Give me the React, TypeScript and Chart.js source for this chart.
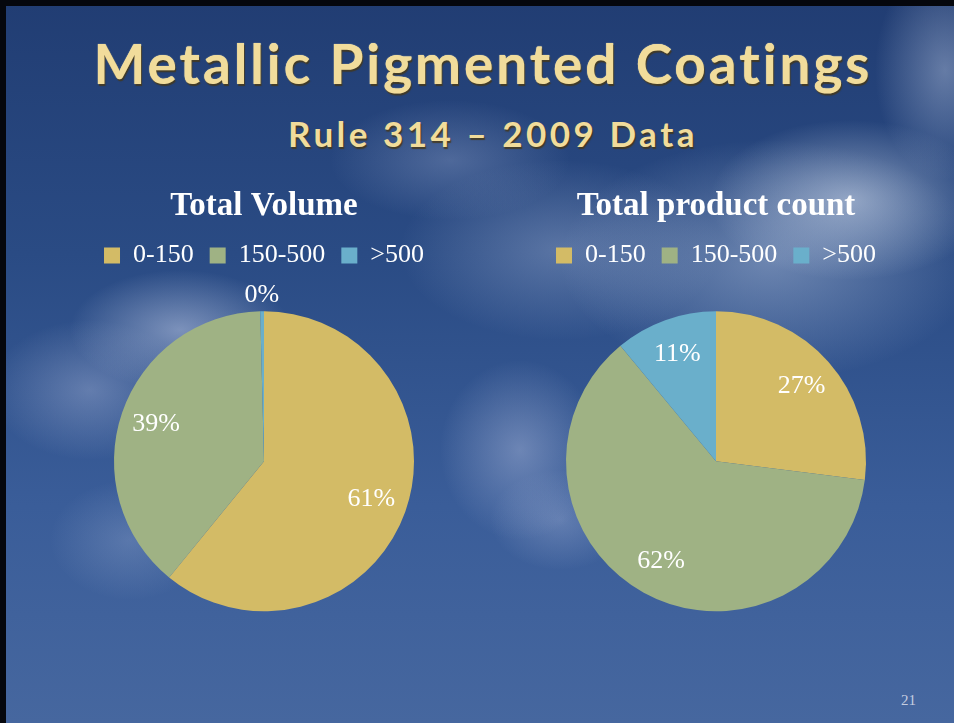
import React, { useEffect, useRef } from "react";
import { Chart, registerables } from "chart.js";

Chart.register(...registerables);

const categories = ["0-150", "150-500", ">500"];
const volumeValues = [60.9, 38.7, 0.4];
const countValues = [27, 62, 11];
const sliceColors = ["#d3bb66", "#9fb284", "#6aafcb"];

const chartTitles = ["Total Volume", "Total product count"];

const labelPlugin = {
  id: "pieLabels",
  afterDatasetsDraw(chart: any) {
    const ctx = chart.ctx;
    const ds = chart.data.datasets[0];
    const vals: number[] = ds.data;
    const total = vals.reduce((a, b) => a + b, 0);
    const meta = chart.getDatasetMeta(0);
    ctx.save();
    ctx.font = '26px "Liberation Serif"';
    ctx.fillStyle = "#ffffff";
    ctx.textAlign = "center";
    ctx.textBaseline = "middle";
    meta.data.forEach((arc: any, i: number) => {
      const p = arc.getProps(["startAngle", "endAngle", "outerRadius", "x", "y"], true);
      const mid = (p.startAngle + p.endAngle) / 2;
      const pct = (vals[i] / total) * 100;
      const r = pct < 3 ? p.outerRadius * 1.11 : p.outerRadius * 0.76;
      const tx = p.x + Math.cos(mid) * r;
      const ty = p.y + Math.sin(mid) * r;
      ctx.fillText(Math.round(pct) + "%", tx, ty);
    });
    ctx.restore();
  },
};

function PieChart({ title, values }: { title: string; values: number[] }) {
  const ref = useRef<HTMLCanvasElement>(null);
  useEffect(() => {
    if (!ref.current) return;
    const chart = new Chart(ref.current, {
      type: "pie",
      data: {
        labels: categories,
        datasets: [
          {
            data: values,
            backgroundColor: sliceColors,
            borderWidth: 0,
            radius: 150,
          } as any,
        ],
      },
      options: {
        animation: false,
        responsive: false,
        maintainAspectRatio: false,
        layout: { padding: { bottom: 0 } },
        plugins: {
          title: {
            display: true,
            text: title,
            color: "#ffffff",
            font: { family: '"Liberation Serif"', size: 33, weight: "bold" },
            padding: { top: 12, bottom: 0 },
          },
          legend: {
            display: true,
            position: "top",
            labels: {
              color: "#ffffff",
              boxWidth: 16,
              boxHeight: 16,
              padding: 16,
              font: { family: '"Liberation Serif"', size: 26 },
            },
          },
          tooltip: { enabled: false },
        },
      },
      plugins: [labelPlugin],
    });
    return () => chart.destroy();
  }, [title, values]);
  return <canvas ref={ref} width={440} height={469} style={{ width: 440, height: 469, display: "block" }} />;
}

export default function App() {
  useEffect(() => {
    document.body.style.margin = "0";
  }, []);
  const bg = [
    "radial-gradient(ellipse 140px 80px at 850px 200px, rgba(215,225,240,0.55), rgba(215,225,240,0) 100%)",
    "radial-gradient(ellipse 210px 120px at 770px 260px, rgba(190,205,230,0.45), rgba(190,205,230,0) 100%)",
    "radial-gradient(ellipse 160px 90px at 560px 250px, rgba(180,195,225,0.35), rgba(180,195,225,0) 100%)",
    "radial-gradient(ellipse 70px 110px at 945px 70px, rgba(200,212,235,0.4), rgba(200,212,235,0) 100%)",
    "radial-gradient(ellipse 120px 60px at 450px 160px, rgba(170,185,220,0.3), rgba(170,185,220,0) 100%)",
    "radial-gradient(ellipse 110px 60px at 180px 330px, rgba(200,210,235,0.5), rgba(200,210,235,0) 100%)",
    "radial-gradient(ellipse 100px 70px at 90px 390px, rgba(190,200,230,0.35), rgba(190,200,230,0) 100%)",
    "radial-gradient(ellipse 80px 90px at 520px 450px, rgba(190,200,230,0.4), rgba(190,200,230,0) 100%)",
    "radial-gradient(ellipse 70px 50px at 560px 520px, rgba(190,200,230,0.3), rgba(190,200,230,0) 100%)",
    "radial-gradient(ellipse 80px 60px at 130px 540px, rgba(180,195,225,0.25), rgba(180,195,225,0) 100%)",
    "linear-gradient(180deg, #213d73 0%, #2a4b84 35%, #3a5d99 70%, #46679f 100%)",
  ].join(",");
  return (
    <div style={{ position: "relative", width: 954, height: 723, background: "#05070d", overflow: "hidden" }}>
      <div
        style={{
          position: "absolute",
          left: 6,
          top: 6,
          width: 948,
          height: 717,
          backgroundImage: bg,
          backgroundPosition: "-6px -6px",
          backgroundSize: "954px 723px",
        }}
      />
      <div
        style={{
          position: "absolute",
          left: 6,
          width: 954,
          top: 28,
          textAlign: "center",
          fontFamily: "Lato, sans-serif",
          fontWeight: 700,
          fontSize: 55,
          lineHeight: "70px",
          color: "#f1dc9b",
          textShadow: "1px 2px 1px rgba(70,55,20,0.8), 0 0 1px #fff3c8",
          letterSpacing: 2.9,
        }}
      >
        Metallic Pigmented Coatings
      </div>
      <div
        style={{
          position: "absolute",
          left: 0,
          width: 986,
          top: 110,
          textAlign: "center",
          fontFamily: "Lato, sans-serif",
          fontWeight: 700,
          fontSize: 35,
          lineHeight: "46px",
          color: "#f1dc9b",
          textShadow: "1px 2px 1px rgba(70,55,20,0.8)",
          letterSpacing: 3.5,
        }}
      >
        Rule 314 – 2009 Data
      </div>
      <div style={{ position: "absolute", left: 44, top: 175 }}>
        <PieChart title={chartTitles[0]} values={volumeValues} />
      </div>
      <div style={{ position: "absolute", left: 496, top: 175 }}>
        <PieChart title={chartTitles[1]} values={countValues} />
      </div>
      <div
        style={{
          position: "absolute",
          right: 38,
          top: 692,
          fontFamily: '"Liberation Serif", serif',
          fontSize: 15,
          color: "#c5cde0",
        }}
      >
        21
      </div>
    </div>
  );
}
